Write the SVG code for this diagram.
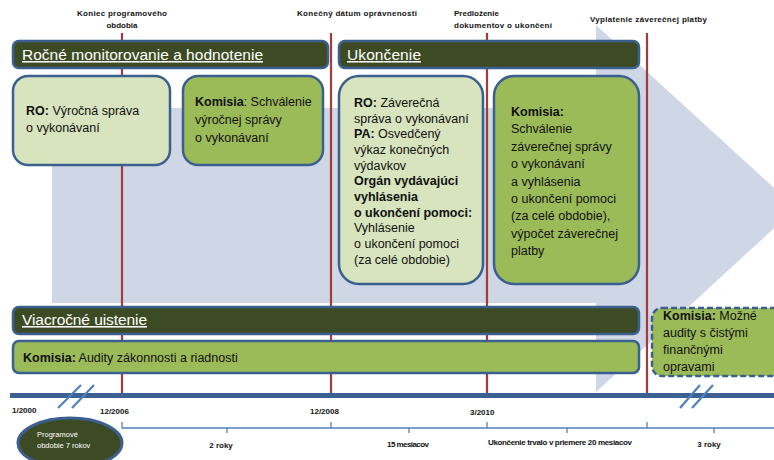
<svg xmlns="http://www.w3.org/2000/svg" width="774" height="460" viewBox="0 0 774 460">
<style>
.hdr{fill:#3c4b23;stroke:#3b6090;stroke-width:2.5}
.lg{fill:#d7e4bd;stroke:#3b6090;stroke-width:2.5}
.g{fill:#9bbb59;stroke:#3b6090;stroke-width:2.5}
.red{stroke:#a33b3b;stroke-width:2.2}
.ht{font-family:"Liberation Sans",Arial,sans-serif;font-size:15.5px;fill:#fff;text-decoration:underline}
.bt{font-family:"Liberation Sans",Arial,sans-serif;font-size:12.5px;fill:#111}
.b{font-weight:bold}
.sm{font-family:"Liberation Sans",Arial,sans-serif;font-size:8px;font-weight:bold;fill:#111}
.br{stroke:#4f81bd;stroke-width:1.3;fill:none}
.sl{stroke:#4f81bd;stroke-width:2.2}
</style>
<!-- background arrow -->
<polygon points="52,108 596,108 596,25 796,208 596,392 596,303 52,303" fill="#cfd6e6"/>
<!-- milestone lines -->
<g id="connectors">
<line class="red" x1="122" y1="33" x2="122" y2="394"/>
<line class="red" x1="331" y1="33" x2="331" y2="394"/>
<line class="red" x1="487" y1="33" x2="487" y2="394"/>
<line class="red" x1="647" y1="33" x2="647" y2="394"/>
</g>
<!-- top labels -->
<g id="labels-top">
<text class="sm" x="122" y="16" text-anchor="middle" textLength="90">Koniec programového</text>
<text class="sm" x="122" y="28" text-anchor="middle">obdobia</text>
<text class="sm" x="357" y="16" text-anchor="middle" textLength="120">Konečný dátum oprávnenosti</text>
<text class="sm" x="454" y="16">Predloženie</text>
<text class="sm" x="454" y="28" textLength="98">dokumentov o ukončení</text>
<text class="sm" x="590" y="22" textLength="117">Vyplatenie záverečnej platby</text>
</g>
<g id="hdr-rocne">
<rect class="hdr" x="13" y="41" width="315" height="27" rx="6"/>
<text class="ht" x="22" y="60" textLength="241">Ročné monitorovanie a hodnotenie</text>
</g>
<g id="hdr-ukoncenie">
<rect class="hdr" x="339" y="41" width="300" height="27" rx="6"/>
<text class="ht" x="347" y="60" textLength="74">Ukončenie</text>
</g>
<g id="box-ro-vyrocna">
<rect class="lg" x="13" y="76" width="157" height="89" rx="15"/>
<text class="bt" x="26" y="115"><tspan class="b">RO:</tspan> Výročná správa</text>
<text class="bt" x="26" y="132">o vykonávaní</text>
</g>
<g id="box-komisia-vyrocna">
<rect class="g" x="183" y="76" width="140" height="89" rx="15"/>
<text class="bt" x="195" y="106"><tspan class="b">Komisia</tspan>: Schválenie</text>
<text class="bt" x="195" y="124">výročnej správy</text>
<text class="bt" x="195" y="142">o vykonávaní</text>
</g>
<g id="box-ro-zaverecna">
<rect class="lg" x="339" y="76" width="144" height="208" rx="20"/>
<g class="bt" font-size="12px">
<text x="354" y="107"><tspan class="b">RO:</tspan> Záverečná</text>
<text x="354" y="123">správa o vykonávaní</text>
<text x="354" y="138"><tspan class="b">PA:</tspan> Osvedčený</text>
<text x="354" y="154">výkaz konečných</text>
<text x="354" y="170">výdavkov</text>
<text x="354" y="185" class="b">Orgán vydávajúci</text>
<text x="354" y="201" class="b">vyhlásenia</text>
<text x="354" y="217" class="b">o ukončení pomoci:</text>
<text x="354" y="232">Vyhlásenie</text>
<text x="354" y="248">o ukončení pomoci</text>
<text x="354" y="264">(za celé obdobie)</text>
</g>
</g>
<g id="box-komisia-zaverecna">
<rect class="g" x="494" y="76" width="145" height="208" rx="20"/>
<g class="bt" font-size="12.5px">
<text x="511" y="116" class="b">Komisia:</text>
<text x="511" y="133">Schválenie</text>
<text x="511" y="151">záverečnej správy</text>
<text x="511" y="168">o vykonávaní</text>
<text x="511" y="186">a vyhlásenia</text>
<text x="511" y="203">o ukončení  pomoci</text>
<text x="511" y="220">(za celé obdobie),</text>
<text x="511" y="238">výpočet  záverečnej</text>
<text x="511" y="255">platby</text>
</g>
</g>
<g id="hdr-viacrocne">
<rect class="hdr" x="13" y="307" width="626" height="27" rx="6"/>
<text class="ht" x="22" y="325" textLength="125">Viacročné uistenie</text>
</g>
<g id="box-audity">
<rect class="g" x="13" y="341" width="626" height="32" rx="6"/>
<text class="bt" x="23" y="362"><tspan class="b">Komisia:</tspan> Audity zákonnosti a riadnosti</text>
</g>
<g id="box-mozne">
<rect class="g" x="652" y="308" width="135" height="68" rx="10" stroke-dasharray="6,3"/>
<text class="bt" x="663" y="320"><tspan class="b">Komisia:</tspan> Možné</text>
<text class="bt" x="663" y="337">audity s čistými</text>
<text class="bt" x="663" y="354">finančnými</text>
<text class="bt" x="663" y="371">opravami</text>
</g>
<!-- timeline -->
<g id="timeline">
<rect x="10" y="393" width="770" height="5" fill="#3a6191"/>
<line class="sl" x1="58" y1="408" x2="81" y2="385"/>
<line class="sl" x1="72" y1="408" x2="94" y2="385"/>
<line class="sl" x1="680" y1="408" x2="700" y2="385"/>
<line class="sl" x1="692" y1="408" x2="713" y2="385"/>
</g>
<g id="dates">
<text class="sm" x="12" y="413">1/2000</text>
<text class="sm" x="100" y="414">12/2006</text>
<text class="sm" x="310" y="414">12/2008</text>
<text class="sm" x="470" y="415">3/2010</text>
</g>
<g id="brackets">
<path class="br" d="M122,422 V428 H780 M331,422 V428 M487,422 V428 M647,422 V428 M227,428 V433 M409,428 V433 M567,428 V433 M714,428 V433"/>
<text class="sm" x="221" y="448" text-anchor="middle">2 roky</text>
<text class="sm" x="408" y="447" text-anchor="middle" textLength="42">15 mesiacov</text>
<text class="sm" x="560" y="445" text-anchor="middle" textLength="144">Ukončenie trvalo  v priemere 20 mesiacov</text>
<text class="sm" x="709" y="447" text-anchor="middle">3 roky</text>
</g>
<g id="ellipse-obdobie">
<ellipse cx="70" cy="443" rx="52" ry="25" fill="#3c4b23" stroke="#3b6090" stroke-width="3"/>
<text x="37" y="437" font-family="'Liberation Sans',Arial,sans-serif" font-size="7.5px" fill="#fff">Programové</text>
<text x="37" y="448" font-family="'Liberation Sans',Arial,sans-serif" font-size="7.5px" fill="#fff">obdobie 7 rokov</text>
</g>
</svg>
